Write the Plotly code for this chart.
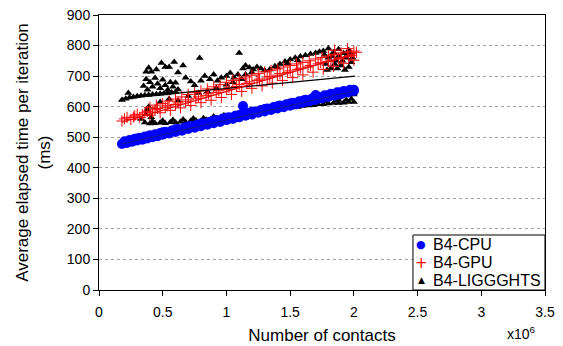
import plotly.graph_objects as go

# Number of contacts (x10^6) and average elapsed time per iteration (ms)
cpu_x = [0.18, 0.22, 0.26, 0.30, 0.34, 0.38, 0.42, 0.46, 0.50, 0.55, 0.60, 0.65, 0.70, 0.75, 0.80,
         0.85, 0.90, 0.95, 1.00, 1.05, 1.10, 1.15, 1.20, 1.25, 1.30, 1.35, 1.40, 1.45, 1.50, 1.55,
         1.60, 1.65, 1.70, 1.75, 1.80, 1.85, 1.90, 1.95, 2.00,
         0.20, 0.24, 0.28, 0.32, 0.36, 0.40, 0.44, 0.48, 0.52, 0.57, 0.62, 0.67, 0.72, 0.77, 0.82,
         0.87, 0.92, 0.97, 1.02, 1.07, 1.12, 1.17, 1.22, 1.27, 1.32, 1.37, 1.42, 1.47, 1.52, 1.57,
         1.62, 1.67, 1.72, 1.77, 1.82, 1.87, 1.92, 1.97,
         0.30, 0.40, 0.50, 0.60, 0.70, 0.80, 0.90, 1.00, 1.10, 1.20, 1.30, 1.40, 1.50, 1.60, 1.70,
         1.80, 1.90, 2.00, 1.13, 1.70]
cpu_y = [478, 481, 485, 489, 492, 496, 500, 503, 508, 512, 517, 521, 527, 531, 536,
         541, 546, 550, 556, 560, 565, 570, 574, 580, 584, 589, 594, 598, 603, 608,
         613, 617, 622, 627, 632, 636, 641, 646, 651,
         487, 491, 495, 498, 502, 506, 510, 514, 518, 522, 527, 532, 537, 541, 546,
         551, 556, 561, 565, 570, 575, 580, 584, 589, 594, 599, 604, 608, 613, 618,
         623, 627, 632, 637, 642, 647, 651, 655,
         496, 506, 516, 526, 535, 545, 554, 564, 573, 583, 592, 601, 610, 619, 629,
         638, 647, 655, 602, 638]

gpu_x = [0.18, 0.25, 0.32, 0.40, 0.48, 0.56, 0.64, 0.72, 0.80, 0.88, 0.96, 1.04, 1.12, 1.20, 1.28,
         1.36, 1.44, 1.52, 1.60, 1.68, 1.76, 1.84, 1.92, 2.00,
         0.22, 0.30, 0.38, 0.46, 0.54, 0.62, 0.70, 0.78, 0.86, 0.94, 1.02, 1.10, 1.18, 1.26, 1.34,
         1.42, 1.50, 1.58, 1.66, 1.74, 1.82, 1.90, 1.98,
         0.28, 0.36, 0.44, 0.52, 0.60, 0.68, 0.76, 0.84, 0.92, 1.00, 1.08, 1.16, 1.24, 1.32, 1.40,
         1.48, 1.56, 1.64, 1.72, 1.80, 1.88, 1.96,
         0.40, 0.50, 0.60, 0.70, 0.80, 0.90, 1.00, 1.10, 1.20, 1.30, 1.40, 1.50, 1.60, 1.70, 1.80,
         1.90, 2.00, 1.85, 1.95, 2.02,
         0.45, 0.55, 0.65, 0.75, 0.85, 0.95, 1.05, 1.15, 1.25, 1.35, 1.45, 1.55, 1.65, 1.75, 1.85,
         1.95, 0.20, 0.27, 0.34, 0.42]
gpu_y = [553, 558, 565, 572, 580, 588, 596, 604, 613, 621, 630, 640, 650, 660, 668,
         677, 686, 695, 704, 713, 722, 732, 742, 752,
         565, 575, 585, 594, 603, 612, 622, 632, 642, 652, 662, 672, 681, 690, 699,
         708, 717, 726, 735, 744, 752, 760, 768,
         570, 580, 590, 598, 607, 616, 626, 636, 646, 656, 666, 676, 686, 694, 703,
         712, 722, 730, 740, 748, 756, 764,
         598, 610, 625, 640, 652, 665, 680, 692, 703, 714, 724, 735, 745, 756, 766,
         776, 782, 785, 790, 778,
         605, 618, 632, 646, 658, 672, 686, 697, 708, 719, 730, 740, 750, 761, 771,
         779, 560, 566, 574, 582]

lig_x = [0.18, 0.21, 0.24, 0.27, 0.30, 0.33, 0.36, 0.39, 0.42, 0.45, 0.48, 0.51, 0.54, 0.57, 0.60, 0.23,
         0.37, 0.41, 0.49, 0.52, 0.55, 0.59, 0.79, 0.45, 0.39, 0.62, 0.66,
         0.37, 0.40, 0.42, 0.44, 0.46, 0.48, 0.50, 0.52, 0.54, 0.56, 0.58, 0.60, 0.62, 0.38, 0.35,
         0.80, 0.83, 0.87, 0.90, 0.93, 0.96, 1.00, 1.03, 1.06, 1.09, 0.72, 0.68, 0.75,
         0.48, 0.55, 0.62, 0.70, 0.78, 0.85, 0.92, 1.00, 1.05, 1.12,
         1.10, 1.13, 1.15, 1.18, 1.21, 1.24, 1.27, 1.30, 1.15, 1.20,
         1.34, 1.38, 1.42, 1.46, 1.50, 1.54, 1.58, 1.62, 1.66, 1.70, 1.73, 1.40, 1.48, 1.56,
         1.76, 1.80, 1.84, 1.88, 1.92, 1.96, 1.78, 1.82, 1.86, 1.90, 1.94, 1.98, 1.80, 1.88, 1.96,
         1.77, 1.83, 1.87, 1.91, 1.95, 1.99, 1.79, 1.85, 1.93, 1.97,
         0.33, 0.36, 0.40, 0.44, 0.48, 0.52, 0.56, 0.60, 0.64, 0.68, 0.72, 0.76, 0.80, 0.84, 0.88,
         0.92, 0.96, 1.00, 1.04, 1.08, 1.12, 1.16, 1.20, 1.24, 1.28, 1.32, 1.36, 1.40, 1.44, 1.48,
         1.52, 1.56, 1.60, 1.64, 1.68, 1.72, 1.76, 1.80, 1.84, 1.88, 1.92, 1.96, 2.00,
         0.42, 0.50, 0.58, 0.66, 0.74, 0.82, 0.90, 0.98, 1.06, 1.14, 1.22, 1.30, 1.38, 1.46, 1.54,
         1.62, 1.70, 1.78, 1.86, 1.94,
         0.37, 0.38, 0.39, 0.41,
         1.45, 1.55, 1.65, 1.72, 1.78, 1.84, 1.90, 1.96, 2.00, 1.98, 1.88]
lig_y = [622, 626, 630, 632, 634, 636, 637, 638, 640, 641, 642, 643, 645, 646, 648, 645,
         714, 714, 743, 730, 730, 746, 759, 722, 727, 712, 735,
         690, 680, 665, 694, 675, 660, 688, 670, 655, 680, 665, 678, 656, 655, 668,
         685, 700, 690, 705, 685, 695, 700, 710, 695, 705, 682, 695, 670,
         615, 625, 620, 635, 645, 650, 660, 672, 680, 690,
         776, 725, 735, 728, 722, 730, 725, 718, 705, 712,
         722, 732, 740, 748, 754, 760, 764, 768, 772, 776, 780, 728, 742, 752,
         782, 790, 778, 788, 775, 785, 740, 725, 750, 735, 760, 745, 760, 765, 730,
         770, 765, 725, 750, 770, 760, 720, 740, 720, 775,
         560, 548, 545, 546, 547, 546, 549, 548, 551, 550, 553, 555, 553, 557, 560,
         562, 564, 566, 568, 570, 573, 575, 577, 580, 582, 585, 587, 590, 593, 595,
         597, 599, 602, 604, 605, 608, 608, 610, 612, 612, 613, 615, 615,
         552, 554, 556, 558, 561, 562, 568, 572, 576, 580, 585, 590, 595, 600, 606,
         610, 615, 618, 620, 622,
         575, 590, 600, 565,
         605, 612, 620, 625, 628, 632, 635, 638, 640, 625, 622]

# Linear trend lines (end points)
cpu_trend_x = [0.18, 2.00]
cpu_trend_y = [478, 651]
gpu_trend_x = [0.18, 2.02]
gpu_trend_y = [549, 775]
lig_trend_x = [0.18, 2.01]
lig_trend_y = [627, 700]

x_ticks = [0, 0.5, 1, 1.5, 2, 2.5, 3, 3.5]
x_tick_labels = ["0", "0.5", "1", "1.5", "2", "2.5", "3", "3.5"]
y_ticks = [0, 100, 200, 300, 400, 500, 600, 700, 800, 900]

series_names = ["B4-CPU", "B4-GPU", "B4-LIGGGHTS"]
series_colors = ["blue", "red", "black"]
legend_glyphs = ["\u25CF", "+", "\u25B2"]
legend_glyph_sizes = [11, 15, 9]

FONT = "Liberation Sans, Arial, sans-serif"

fig = go.Figure()
fig.add_trace(go.Scatter(x=lig_x, y=lig_y, mode="markers", name=series_names[2],
                         marker=dict(symbol="triangle-up", size=7, color="black")))
fig.add_trace(go.Scatter(x=gpu_x, y=gpu_y, mode="markers", name=series_names[1],
                         marker=dict(symbol="cross-thin", size=8, color="red",
                                     line=dict(color="red", width=1))))
fig.add_trace(go.Scatter(x=cpu_x, y=cpu_y, mode="markers", name=series_names[0],
                         marker=dict(symbol="circle", size=10, color="blue")))
fig.add_trace(go.Scatter(x=cpu_trend_x, y=cpu_trend_y, mode="lines",
                         line=dict(color="#1a1a80", width=1)))
fig.add_trace(go.Scatter(x=lig_trend_x, y=lig_trend_y, mode="lines",
                         line=dict(color="black", width=1.3)))
fig.add_trace(go.Scatter(x=gpu_trend_x, y=gpu_trend_y, mode="lines",
                         line=dict(color="#e00000", width=1.3)))

# Legend box drawn in the bottom-right corner of the plot area
leg_x0, leg_y1 = 0.704, 0.20
row_y = [0.164, 0.100, 0.036]
annotations = []
for name, col, glyph, gsize, ry in zip(series_names, series_colors, legend_glyphs,
                                       legend_glyph_sizes, row_y):
    annotations.append(dict(text=glyph, xref="paper", yref="paper", x=0.722, y=ry,
                            xanchor="center", yanchor="middle", showarrow=False,
                            font=dict(size=gsize, color=col, family="DejaVu Sans")))
    annotations.append(dict(text=name, xref="paper", yref="paper", x=0.745, y=ry,
                            xanchor="left", yanchor="middle", showarrow=False,
                            font=dict(size=16, color="black")))
annotations.append(dict(text="x10<sup>6</sup>", xref="paper", yref="paper", x=0.985, y=-0.115,
                        xanchor="right", yanchor="top", showarrow=False,
                        font=dict(size=14)))

# the page body has an 8px margin, so the figure is 8px smaller and margins shifted
fig.update_layout(
    width=555, height=338,
    margin=dict(l=91, r=18, t=7, b=56),
    showlegend=False,
    paper_bgcolor="white", plot_bgcolor="white",
    font=dict(family=FONT, size=14, color="black"),
    xaxis=dict(range=[0, 3.5], tickvals=x_ticks, ticktext=x_tick_labels,
               showgrid=False, zeroline=False, showline=True, linecolor="black",
               linewidth=1, mirror=True, ticks="outside", ticklen=5, tickcolor="black",
               ticklabelstandoff=4, ticklabeloverflow="allow", automargin=False,
               title=dict(text="Number of contacts", standoff=10)),
    yaxis=dict(range=[0, 900], tickvals=y_ticks, showgrid=True, gridcolor="#a0a0a0",
               griddash="dot", gridwidth=1, zeroline=False, showline=True,
               linecolor="black", linewidth=1, mirror=True, ticks="outside", ticklen=5,
               tickcolor="black", ticklabeloverflow="allow", automargin=False,
               title=dict(text="Average elapsed time per iteration<br>(ms)", standoff=11)),
    shapes=[dict(type="rect", xref="paper", yref="paper", x0=leg_x0, x1=1, y0=0, y1=leg_y1,
                 fillcolor="white", line=dict(color="black", width=1), layer="above")],
    annotations=annotations,
)

fig.write_html("out.html")
